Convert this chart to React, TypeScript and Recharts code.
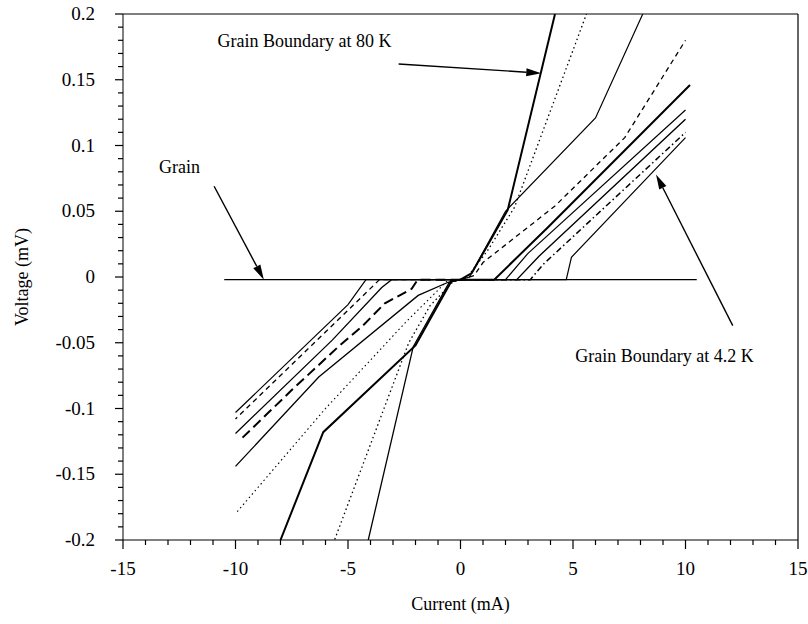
import { LineChart, Line, XAxis, YAxis, ReferenceLine, ReferenceDot } from 'recharts'

const serif = '"Liberation Serif", "Times New Roman", Times, serif'

// current (mA) / voltage (mV) pairs, positive branches
const gb80Pos = [[0, -0.002], [0.5, 0.003], [2.1, 0.051], [4.2, 0.2]]
const gbDotPos = [[0, -0.002], [0.3, 0], [1.2, 0.02], [2.4, 0.053], [5.6, 0.2]]
const gbMidPos = [[0, -0.002], [0.4, 0], [2.0, 0.05], [6.0, 0.121], [8.1, 0.2]]
const gbDashPos = [[0, -0.002], [0.6, 0.001], [1.0, 0.011], [4.2, 0.054], [7.3, 0.106], [10, 0.18]]
const gbAPos = [[0, -0.002], [1.5, -0.002], [3.9, 0.038], [10.2, 0.146]]
const gbBPos = [[0, -0.002], [2.0, -0.002], [3.0, 0.018], [10, 0.127]]
const gbCPos = [[0, -0.002], [2.5, -0.002], [3.5, 0.016], [10, 0.12]]
const gbDPos = [[0, -0.002], [3.1, -0.002], [3.7, 0.01], [10, 0.11]]
const gb42Pos = [[0, -0.002], [4.7, -0.002], [4.93, 0.015], [10, 0.106]]

// negative branches
const gb80Neg = [[0, -0.002], [-0.5, -0.004], [-2.1, -0.053], [-4.1, -0.2]]
const gbDotNeg = [[0, -0.002], [-0.3, -0.003], [-1.36, -0.022], [-2.3, -0.05], [-5.6, -0.2]]
const gbMidNeg = [[0, -0.002], [-0.4, -0.003], [-2.0, -0.052], [-6.1, -0.118], [-8.0, -0.2]]
const gbDashNeg = [[0, -0.002], [-0.6, -0.003], [-1.0, -0.01], [-2.47, -0.035], [-6.0, -0.1], [-10, -0.18]]
const gbANeg = [[0, -0.002], [-0.55, -0.004], [-1.88, -0.014], [-6.3, -0.076], [-10, -0.144]]
const gbBNeg = [[0, -0.002], [-1.9, -0.002], [-2.17, -0.009], [-3.36, -0.02], [-4.4, -0.038], [-5.43, -0.053], [-7.5, -0.086], [-9.8, -0.124]]
const gbCNeg = [[0, -0.002], [-3.06, -0.002], [-3.5, -0.008], [-5.7, -0.048], [-10, -0.119]]
const gbDNeg = [[0, -0.002], [-3.6, -0.002], [-4.2, -0.012], [-10, -0.108]]
const gb42Neg = [[0, -0.002], [-4.2, -0.002], [-5.0, -0.021], [-10, -0.103]]

// grain: no voltage over the whole sweep
const grain = [[-10.5, -0.002], [10.5, -0.002]]

const xMajor = [-15, -10, -5, 0, 5, 10, 15]
const yMajor = [-0.2, -0.15, -0.1, -0.05, 0, 0.05, 0.1, 0.15, 0.2]

const xTicks: number[] = []
for (let k = -15; k <= 15; k++) xTicks.push(k)
const yTicks: number[] = []
for (let k = -20; k <= 20; k++) yTicks.push(k / 100)

const pts = (a: number[][]) => a.map(([i, v]) => ({ i, v }))

const SOLID = undefined
const DOT = '1.5 3'
const DASH = '5 4'
const LONG = '10 5'
const DASHDOT = '6 3 1.5 3'

const branches = [
  { id: 'gb80p', d: gb80Pos, w: 2, dash: SOLID },
  { id: 'gbdotp', d: gbDotPos, w: 1.3, dash: DOT },
  { id: 'gbmidp', d: gbMidPos, w: 1.2, dash: SOLID },
  { id: 'gbdashp', d: gbDashPos, w: 1.3, dash: DASH },
  { id: 'gbap', d: gbAPos, w: 2, dash: SOLID },
  { id: 'gbbp', d: gbBPos, w: 1.2, dash: SOLID },
  { id: 'gbcp', d: gbCPos, w: 1.4, dash: SOLID },
  { id: 'gbdp', d: gbDPos, w: 1.5, dash: DASHDOT },
  { id: 'gb42p', d: gb42Pos, w: 1.2, dash: SOLID },
  { id: 'gb80n', d: gb80Neg, w: 1.3, dash: SOLID },
  { id: 'gbdotn', d: gbDotNeg, w: 1.3, dash: DOT },
  { id: 'gbmidn', d: gbMidNeg, w: 2, dash: SOLID },
  { id: 'gbdashn', d: gbDashNeg, w: 1.1, dash: DOT },
  { id: 'gban', d: gbANeg, w: 1.3, dash: SOLID },
  { id: 'gbbn', d: gbBNeg, w: 2, dash: LONG },
  { id: 'gbcn', d: gbCNeg, w: 1.3, dash: SOLID },
  { id: 'gbdn', d: gbDNeg, w: 1.3, dash: DASH },
  { id: 'gb42n', d: gb42Neg, w: 1.2, dash: SOLID },
  { id: 'grain', d: grain, w: 1.2, dash: SOLID },
]

const isMajor = (v: number, list: number[]) => list.some((m) => Math.abs(m - v) < 1e-9)
const fmt = (v: number) => String(Number(v.toFixed(2)))

function XTick({ x, y, payload }: any) {
  const major = isMajor(payload.value, xMajor)
  return (
    <g>
      <line x1={x} x2={x} y1={y} y2={y + (major ? 9 : 5)} stroke="#000" strokeWidth={1.2} />
      {major && (
        <text x={x} y={y + 35} textAnchor="middle" fontSize={19} fontFamily={serif} fill="#000">
          {fmt(payload.value)}
        </text>
      )}
    </g>
  )
}

function YTick({ x, y, payload }: any) {
  const major = isMajor(payload.value, yMajor)
  return (
    <g>
      <line x1={x - (major ? 8 : 5)} x2={x} y1={y} y2={y} stroke="#000" strokeWidth={1.2} />
      {major && (
        <text x={x - 28} y={y + 6} textAnchor="end" fontSize={19} fontFamily={serif} fill="#000">
          {fmt(payload.value)}
        </text>
      )}
    </g>
  )
}

function Arrow(props: any) {
  const { x1, y1, x2, y2 } = props
  const ang = Math.atan2(y2 - y1, x2 - x1)
  const len = 15
  const half = 4
  const bx = x2 - len * Math.cos(ang)
  const by = y2 - len * Math.sin(ang)
  const px = -Math.sin(ang) * half
  const py = Math.cos(ang) * half
  return (
    <g>
      <line x1={x1} y1={y1} x2={bx} y2={by} stroke="#000" strokeWidth={1.4} />
      <polygon points={`${x2},${y2} ${bx + px},${by + py} ${bx - px},${by - py}`} fill="#000" />
    </g>
  )
}

const note = (text: string) => (p: any) => (
  <text x={p.cx} y={p.cy} fontSize={18} fontFamily={serif} fill="#000">
    {text}
  </text>
)

export default function App() {
  return (
    <div style={{ position: 'absolute', left: 0, top: 0, width: 808, height: 624 }}>
      <LineChart width={808} height={624} margin={{ top: 14, right: 10, left: 23, bottom: 24 }}>
        <XAxis
          type="number"
          dataKey="i"
          domain={[-15, 15]}
          ticks={xTicks}
          interval={0}
          tickSize={0}
          tickMargin={0}
          tickLine={false}
          tick={<XTick />}
          height={60}
          stroke="#000"
          allowDataOverflow
          label={(p: any) => (
            <text x={p.viewBox.x + p.viewBox.width / 2} y={p.viewBox.y + 70} textAnchor="middle" fontSize={18} fontFamily={serif} fill="#000">
              Current (mA)
            </text>
          )}
        />
        <YAxis
          type="number"
          domain={[-0.2, 0.2]}
          ticks={yTicks}
          interval={0}
          tickSize={0}
          tickMargin={0}
          tickLine={false}
          tick={<YTick />}
          width={100}
          stroke="#000"
          allowDataOverflow
          label={(p: any) => {
            const cx = p.viewBox.x - 1
            const cy = p.viewBox.y + p.viewBox.height / 2
            return (
              <text x={cx} y={cy} transform={`rotate(-90 ${cx} ${cy})`} textAnchor="middle" dominantBaseline="central" fontSize={18} fontFamily={serif} fill="#000">
                Voltage (mV)
              </text>
            )
          }}
        />
        <ReferenceLine y={0.2} stroke="#000" strokeWidth={1.2} />
        <ReferenceLine x={15} stroke="#000" strokeWidth={1.2} />
        {branches.map((b) => (
          <Line
            key={b.id}
            data={pts(b.d)}
            dataKey="v"
            type="linear"
            stroke="#000"
            strokeWidth={b.w}
            strokeDasharray={b.dash}
            dot={false}
            activeDot={false}
            isAnimationActive={false}
          />
        ))}
        <ReferenceLine segment={[{ x: -2.75, y: 0.162 }, { x: 3.59, y: 0.155 }]} shape={Arrow} />
        <ReferenceLine segment={[{ x: -10.95, y: 0.069 }, { x: -8.74, y: -0.002 }]} shape={Arrow} />
        <ReferenceLine segment={[{ x: 12.1, y: -0.037 }, { x: 8.69, y: 0.078 }]} shape={Arrow} />
        <ReferenceDot x={-10.8} y={0.175} r={0} shape={note('Grain Boundary at 80 K')} />
        <ReferenceDot x={-13.4} y={0.079} r={0} shape={note('Grain')} />
        <ReferenceDot x={5.1} y={-0.065} r={0} shape={note('Grain Boundary at 4.2 K')} />
      </LineChart>
    </div>
  )
}
